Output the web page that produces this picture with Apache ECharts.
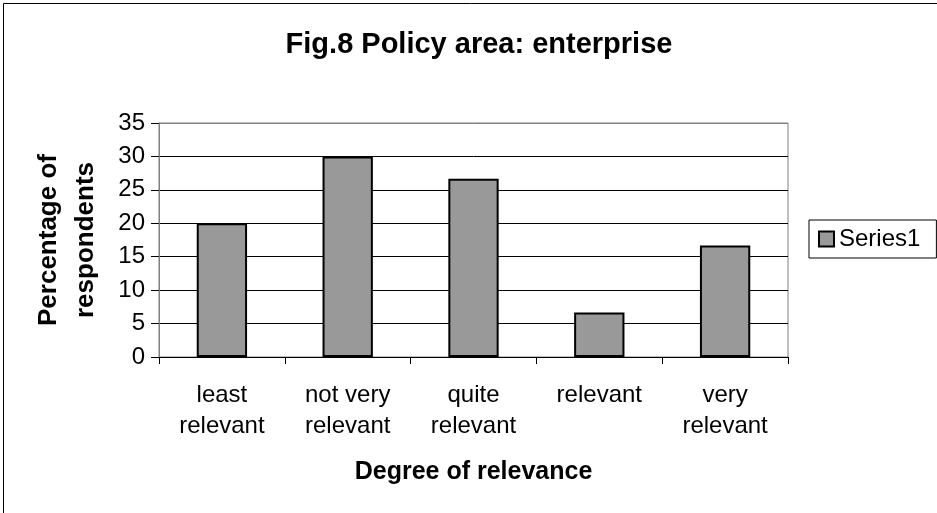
<!DOCTYPE html>
<html>
<head>
<meta charset="utf-8">
<title>Fig.8 Policy area: enterprise</title>
<script src="https://cdn.jsdelivr.net/npm/echarts@6/dist/echarts.min.js"></script>
<style>
  html, body { margin: 0; padding: 0; background: #ffffff; }
  #chart { width: 937px; height: 513px; }
</style>
</head>
<body>
<div id="chart"></div>
<script>
// Survey responses for the enterprise policy area
var categories = ['least\nrelevant', 'not very\nrelevant', 'quite\nrelevant', 'relevant', 'very\nrelevant'];
var seriesName = 'Series1';
var seriesValues = [20, 30, 26.67, 6.67, 16.67];
var yTicks = { min: 0, max: 35, interval: 5 };

var FONT = '"Liberation Sans", Arial, Helvetica, sans-serif';

var chart = echarts.init(document.getElementById('chart'), null, { renderer: 'canvas' });

chart.setOption({
  backgroundColor: '#ffffff',
  animation: false,
  title: {
    text: 'Fig.8 Policy area: enterprise',
    left: 474,
    textAlign: 'center',
    top: 25,
    textStyle: { fontFamily: FONT, fontSize: 29, fontWeight: 'bold', color: '#000' }
  },
  legend: {
    left: 809,
    top: 220,
    orient: 'vertical',
    padding: [7, 16, 7, 9],
    borderColor: '#000',
    borderWidth: 1,
    itemWidth: 15,
    itemHeight: 15,
    itemGap: 0,
    icon: 'rect',
    textStyle: { fontFamily: FONT, fontSize: 24, color: '#000' },
    data: [seriesName]
  },
  grid: {
    left: 159,
    top: 123,
    right: 149,
    bottom: 156,
    show: true,
    borderColor: '#808080',
    borderWidth: 1,
    backgroundColor: '#ffffff'
  },
  xAxis: {
    type: 'category',
    data: categories,
    boundaryGap: true,
    axisLine: { show: true, lineStyle: { color: '#000', width: 1 } },
    axisTick: { show: true, alignWithLabel: false, interval: 0, length: 7, lineStyle: { color: '#000' } },
    axisLabel: {
      interval: 0,
      margin: 23,
      fontFamily: FONT,
      fontSize: 24,
      lineHeight: 31,
      color: '#000'
    },
    splitLine: { show: false },
    name: 'Degree of relevance',
    nameLocation: 'middle',
    nameGap: 103,
    nameTextStyle: { fontFamily: FONT, fontSize: 25, fontWeight: 'bold', color: '#000' }
  },
  yAxis: {
    type: 'value',
    min: yTicks.min,
    max: yTicks.max,
    interval: yTicks.interval,
    axisLine: { show: true, lineStyle: { color: '#808080', width: 1 } },
    axisTick: { show: true, length: 8, lineStyle: { color: '#000' } },
    axisLabel: {
      margin: 14,
      fontFamily: FONT,
      fontSize: 24,
      color: '#000'
    },
    splitLine: {
      show: true,
      lineStyle: {
        color: ['#000', '#000', '#000', '#000', '#000', '#000', '#000', '#808080'],
        width: 1
      }
    },
    name: 'Percentage of\nrespondents',
    nameLocation: 'middle',
    nameRotate: 90,
    nameGap: 55,
    nameTextStyle: { fontFamily: FONT, fontSize: 26, fontWeight: 'bold', color: '#000', lineHeight: 37 }
  },
  series: [{
    name: seriesName,
    type: 'bar',
    data: seriesValues,
    barWidth: '40%',
    itemStyle: { color: '#999999', borderColor: '#000', borderWidth: 2 },
    label: { show: false }
  }],
  graphic: [{
    type: 'rect',
    shape: { x: 3.5, y: 3.5, width: 1200, height: 1200 },
    style: { fill: 'none', stroke: '#000', lineWidth: 1 },
    silent: true,
    z: -1
  }]
});
</script>
</body>
</html>
